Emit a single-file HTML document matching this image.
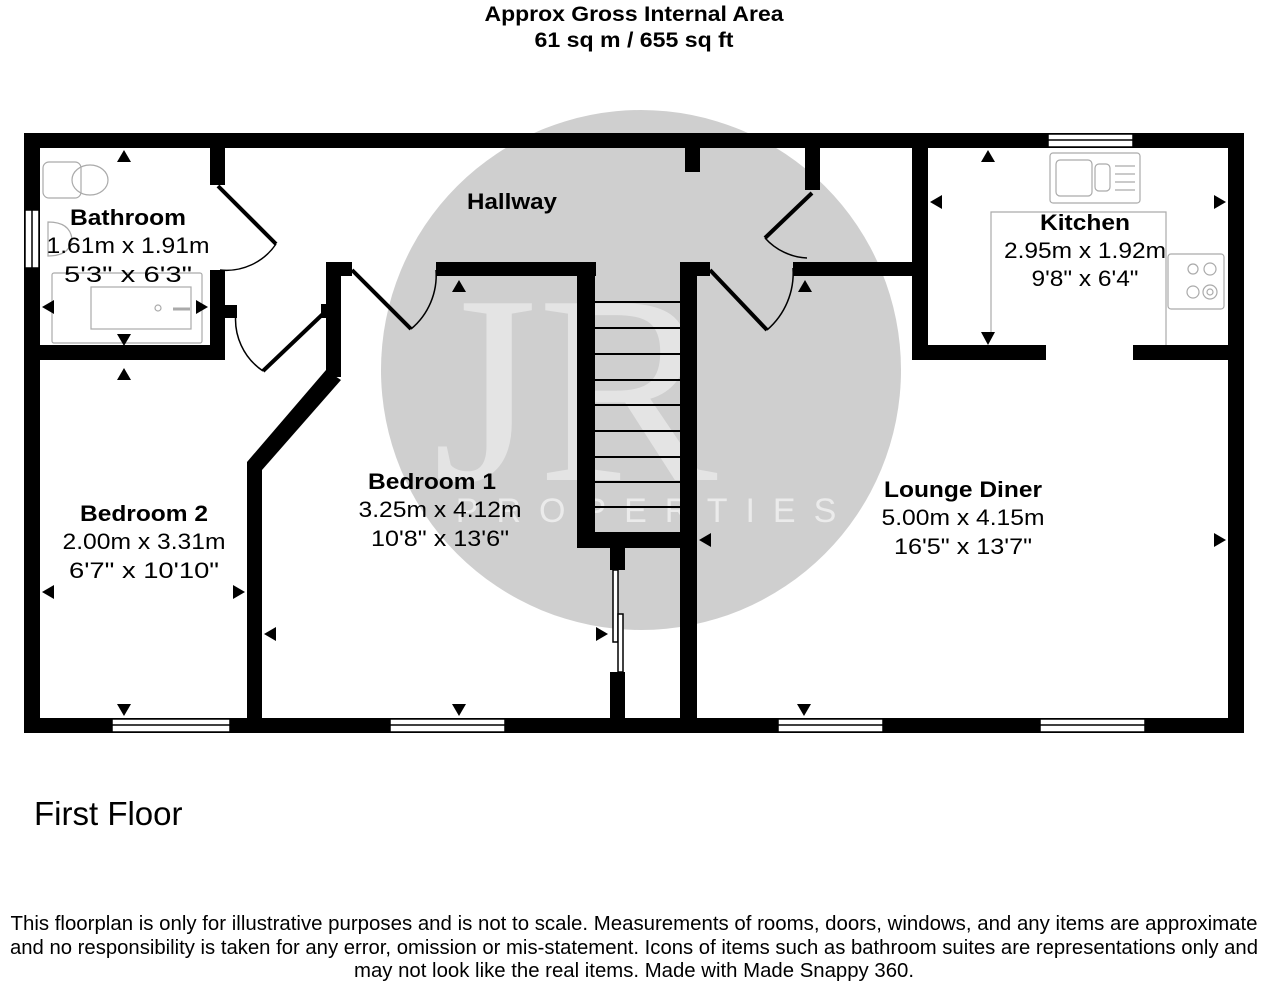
<!DOCTYPE html>
<html><head><meta charset="utf-8"><style>
body{margin:0;background:#fff;width:1264px;height:984px;overflow:hidden;font-family:"Liberation Sans",Arial,sans-serif}
</style></head><body>
<svg width="1264" height="984" viewBox="0 0 1264 984" xmlns="http://www.w3.org/2000/svg" font-family="Liberation Sans, Arial, sans-serif">
<rect width="1264" height="984" fill="#fff"/>
<text x="634" y="21" font-size="21" font-weight="bold" text-anchor="middle" textLength="299" lengthAdjust="spacingAndGlyphs">Approx Gross Internal Area</text>
<text x="634" y="47" font-size="21" font-weight="bold" text-anchor="middle" textLength="199" lengthAdjust="spacingAndGlyphs">61 sq m / 655 sq ft</text>
<!-- watermark -->
<circle cx="641" cy="370" r="260" fill="#cfcfcf"/>
<text x="575" y="480" font-size="270" font-family="Liberation Serif, serif" fill="#e4e4e4" text-anchor="middle">JR</text>
<text x="655" y="522" font-size="34" fill="#ebebeb" text-anchor="middle" letter-spacing="18">PROPERTIES</text>
<g fill="#000">
<rect x="24" y="133" width="1220" height="15"/>
<rect x="24" y="133" width="16" height="600"/>
<rect x="24" y="718" width="1220" height="15"/>
<rect x="1228" y="133" width="16" height="600"/>
<rect x="210" y="148" width="15" height="37"/>
<rect x="210" y="270" width="15" height="90"/>
<rect x="40" y="345" width="185" height="15"/>
<rect x="225" y="305" width="12" height="13"/>
<rect x="326" y="262" width="15" height="115"/>
<rect x="326" y="262" width="26" height="14"/>
<rect x="321" y="304" width="8" height="14"/>
<polygon points="326,370 341,380 262,470 247,462"/>
<rect x="247" y="462" width="15" height="256"/>
<rect x="436" y="262" width="160" height="14"/>
<rect x="577" y="262" width="18" height="286"/>
<rect x="680" y="262" width="17" height="456"/>
<rect x="577" y="532" width="120" height="16"/>
<rect x="610" y="548" width="15" height="22"/>
<rect x="610" y="672" width="15" height="46"/>
<rect x="680" y="262" width="30" height="14"/>
<rect x="793" y="262" width="132" height="14"/>
<rect x="685" y="148" width="15" height="24"/>
<rect x="805" y="148" width="15" height="42"/>
<rect x="912" y="148" width="16" height="212"/>
<rect x="912" y="345" width="134" height="15"/>
<rect x="1133" y="345" width="111" height="15"/>
</g>
<g stroke="#000" stroke-width="2">
<line x1="595" y1="302" x2="680" y2="302"/><line x1="595" y1="328" x2="680" y2="328"/>
<line x1="595" y1="354" x2="680" y2="354"/><line x1="595" y1="380" x2="680" y2="380"/>
<line x1="595" y1="405" x2="680" y2="405"/><line x1="595" y1="431" x2="680" y2="431"/>
<line x1="595" y1="457" x2="680" y2="457"/><line x1="595" y1="482" x2="680" y2="482"/>
<line x1="595" y1="507" x2="680" y2="507"/>
</g>
<g fill="#fff" stroke="#000" stroke-width="1.5"><rect x="613" y="570" width="5" height="72"/><rect x="618" y="614" width="5" height="58"/></g>
<g fill="#fff" stroke="#000" stroke-width="1.5">
<rect x="1048" y="134" width="85" height="13"/><line x1="1048" y1="140" x2="1133" y2="140"/>
<rect x="25" y="210" width="14" height="58"/><line x1="32" y1="210" x2="32" y2="268"/>
<rect x="112" y="719" width="118" height="13"/><line x1="112" y1="725" x2="230" y2="725"/>
<rect x="390" y="719" width="115" height="13"/><line x1="390" y1="725" x2="505" y2="725"/>
<rect x="778" y="719" width="105" height="13"/><line x1="778" y1="725" x2="883" y2="725"/>
<rect x="1040" y="719" width="105" height="13"/><line x1="1040" y1="725" x2="1145" y2="725"/>
</g>
<g stroke="#000" fill="none">
<line x1="218" y1="186" x2="276" y2="244" stroke-width="4"/><path d="M276,244 A60,60 0 0 1 220,270" stroke-width="1.5"/>
<line x1="325" y1="312" x2="263" y2="371" stroke-width="4"/><path d="M263,371 A62,62 0 0 1 236,312" stroke-width="1.5"/>
<line x1="352" y1="270" x2="411" y2="329" stroke-width="4"/><path d="M411,329 A70,70 0 0 0 436,270" stroke-width="1.5"/>
<line x1="710" y1="270" x2="767" y2="330" stroke-width="4"/><path d="M767,330 A75,75 0 0 0 793,268" stroke-width="1.5"/>
<line x1="812" y1="193" x2="765" y2="238" stroke-width="4"/><path d="M765,238 A60,60 0 0 0 807,258" stroke-width="1.5"/>
</g>
<g fill="none" stroke="#aaa" stroke-width="1.2">
<rect x="43" y="162" width="38" height="36" rx="6"/><ellipse cx="90" cy="180" rx="18" ry="15"/>
<path d="M48,222 L48,256 Q70,256 72,239 Q70,222 48,222Z"/>
<rect x="52" y="273" width="150" height="70" rx="2"/><rect x="91" y="287" width="100" height="42"/>
<circle cx="158" cy="308" r="3"/><line x1="173" y1="309" x2="190" y2="309" stroke-width="3"/>
<rect x="1050" y="153" width="90" height="50" rx="3"/><rect x="1056" y="160" width="36" height="36" rx="4"/><rect x="1095" y="164" width="15" height="27" rx="4"/>
<line x1="1115" y1="166" x2="1135" y2="166"/><line x1="1115" y1="174" x2="1135" y2="174"/><line x1="1115" y1="182" x2="1135" y2="182"/><line x1="1115" y1="190" x2="1135" y2="190"/>
<polyline points="991,335 991,212 1166,212 1166,345"/>
<rect x="1168" y="254" width="56" height="55" rx="3"/>
<circle cx="1193" cy="269" r="5"/><circle cx="1210" cy="269" r="6"/><circle cx="1193" cy="292" r="6"/><circle cx="1210" cy="292" r="7"/><circle cx="1210" cy="292" r="3"/>
</g>
<g fill="#000">
<polygon points="117,162 131,162 124,150"/>
<polygon points="42,307 54,300 54,314"/><polygon points="208,307 196,300 196,314"/>
<polygon points="117,334 131,334 124,346"/><polygon points="124,368 117,380 131,380"/>
<polygon points="981,162 995,162 988,150"/><polygon points="930,202 942,195 942,209"/><polygon points="1226,202 1214,195 1214,209"/>
<polygon points="981,332 995,332 988,345"/>
<polygon points="452,292 466,292 459,280"/><polygon points="798,292 812,292 805,280"/>
<polygon points="42,592 54,585 54,599"/><polygon points="245,592 233,585 233,599"/>
<polygon points="264,634 276,627 276,641"/><polygon points="608,634 596,627 596,641"/>
<polygon points="117,704 131,704 124,716"/><polygon points="452,704 466,704 459,716"/>
<polygon points="699,540 711,533 711,547"/><polygon points="1226,540 1214,533 1214,547"/>
<polygon points="797,704 811,704 804,716"/>
</g>
<g text-anchor="middle" font-size="22" lengthAdjust="spacingAndGlyphs">
<text x="128" y="225" font-weight="bold" textLength="116" lengthAdjust="spacingAndGlyphs">Bathroom</text>
<text x="128" y="253" textLength="163" lengthAdjust="spacingAndGlyphs">1.61m x 1.91m</text><text x="128" y="282" textLength="128" lengthAdjust="spacingAndGlyphs">5'3" x 6'3"</text>
<text x="512" y="209" font-weight="bold" textLength="90" lengthAdjust="spacingAndGlyphs">Hallway</text>
<text x="1085" y="230" font-weight="bold" textLength="90" lengthAdjust="spacingAndGlyphs">Kitchen</text>
<text x="1085" y="258" textLength="162" lengthAdjust="spacingAndGlyphs">2.95m x 1.92m</text><text x="1085" y="286" textLength="107" lengthAdjust="spacingAndGlyphs">9'8" x 6'4"</text>
<text x="144" y="521" font-weight="bold" textLength="128" lengthAdjust="spacingAndGlyphs">Bedroom 2</text>
<text x="144" y="549" textLength="163" lengthAdjust="spacingAndGlyphs">2.00m x 3.31m</text><text x="144" y="578" textLength="150" lengthAdjust="spacingAndGlyphs">6'7" x 10'10"</text>
<text x="432" y="489" font-weight="bold" textLength="128" lengthAdjust="spacingAndGlyphs">Bedroom 1</text>
<text x="440" y="517" textLength="163" lengthAdjust="spacingAndGlyphs">3.25m x 4.12m</text><text x="440" y="546" textLength="138" lengthAdjust="spacingAndGlyphs">10'8" x 13'6"</text>
<text x="963" y="497" font-weight="bold" textLength="158" lengthAdjust="spacingAndGlyphs">Lounge Diner</text>
<text x="963" y="525" textLength="163" lengthAdjust="spacingAndGlyphs">5.00m x 4.15m</text><text x="963" y="554" textLength="138" lengthAdjust="spacingAndGlyphs">16'5" x 13'7"</text>
</g>
<text x="34" y="825" font-size="33">First Floor</text>
<g text-anchor="middle" font-size="20">
<text x="634" y="930" textLength="1247" lengthAdjust="spacingAndGlyphs">This floorplan is only for illustrative purposes and is not to scale. Measurements of rooms, doors, windows, and any items are approximate</text>
<text x="634" y="954" textLength="1248" lengthAdjust="spacingAndGlyphs">and no responsibility is taken for any error, omission or mis-statement. Icons of items such as bathroom suites are representations only and</text>
<text x="634" y="977" textLength="560" lengthAdjust="spacingAndGlyphs">may not look like the real items. Made with Made Snappy 360.</text>
</g>
</svg>
</body></html>
